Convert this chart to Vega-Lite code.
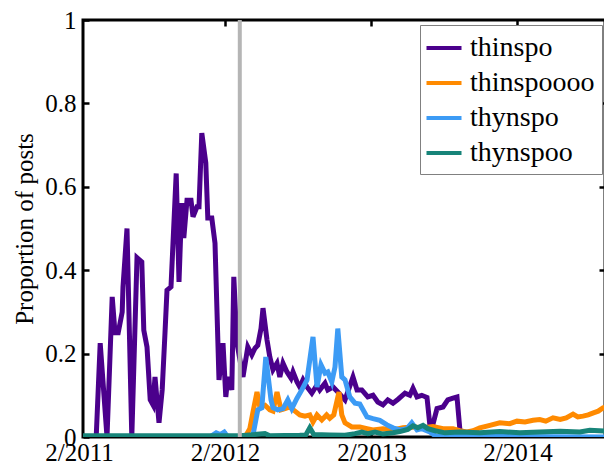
{
  "$schema": "https://vega.github.io/schema/vega-lite/v6.json",
  "width": 522,
  "height": 417,
  "autosize": {"type": "none"},
  "padding": {"left": 83, "top": 20, "right": 0, "bottom": 34},
  "background": "white",
  "config": {
    "view": {"stroke": "black", "strokeWidth": 3},
    "font": "Liberation Serif, serif",
    "axis": {
      "domain": false, "grid": false,
      "labelFont": "Liberation Serif, serif", "labelFontSize": 25, "labelColor": "black",
      "tickColor": "black", "tickWidth": 2.5, "tickSize": -6,
      "titleFont": "Liberation Serif, serif", "titleFontSize": 25, "titleFontWeight": "normal", "titleColor": "black",
      "labelFlush": false, "labelOverlap": false
    }
  },
  "datasets": {
    "series": [
      {"s": "thinspo", "d": "2011-03-16", "v": 0},
      {"s": "thinspo", "d": "2011-03-26", "v": 0.225},
      {"s": "thinspo", "d": "2011-04-12", "v": 0},
      {"s": "thinspo", "d": "2011-04-25", "v": 0.336},
      {"s": "thinspo", "d": "2011-05-02", "v": 0.25},
      {"s": "thinspo", "d": "2011-05-10", "v": 0.25},
      {"s": "thinspo", "d": "2011-05-20", "v": 0.30},
      {"s": "thinspo", "d": "2011-05-22", "v": 0.36},
      {"s": "thinspo", "d": "2011-06-01", "v": 0.50},
      {"s": "thinspo", "d": "2011-06-13", "v": 0},
      {"s": "thinspo", "d": "2011-06-26", "v": 0.43},
      {"s": "thinspo", "d": "2011-07-08", "v": 0.42},
      {"s": "thinspo", "d": "2011-07-13", "v": 0.256},
      {"s": "thinspo", "d": "2011-07-21", "v": 0.216},
      {"s": "thinspo", "d": "2011-07-29", "v": 0.089},
      {"s": "thinspo", "d": "2011-08-05", "v": 0.077},
      {"s": "thinspo", "d": "2011-08-10", "v": 0.144},
      {"s": "thinspo", "d": "2011-08-20", "v": 0.034},
      {"s": "thinspo", "d": "2011-08-28", "v": 0.113},
      {"s": "thinspo", "d": "2011-09-04", "v": 0.25},
      {"s": "thinspo", "d": "2011-09-09", "v": 0.352},
      {"s": "thinspo", "d": "2011-09-19", "v": 0.36},
      {"s": "thinspo", "d": "2011-10-02", "v": 0.632},
      {"s": "thinspo", "d": "2011-10-09", "v": 0.372},
      {"s": "thinspo", "d": "2011-10-16", "v": 0.561},
      {"s": "thinspo", "d": "2011-10-21", "v": 0.477},
      {"s": "thinspo", "d": "2011-10-29", "v": 0.568},
      {"s": "thinspo", "d": "2011-11-08", "v": 0.568},
      {"s": "thinspo", "d": "2011-11-13", "v": 0.528},
      {"s": "thinspo", "d": "2011-11-23", "v": 0.552},
      {"s": "thinspo", "d": "2011-11-28", "v": 0.552},
      {"s": "thinspo", "d": "2011-12-05", "v": 0.729},
      {"s": "thinspo", "d": "2011-12-15", "v": 0.657},
      {"s": "thinspo", "d": "2011-12-20", "v": 0.525},
      {"s": "thinspo", "d": "2011-12-30", "v": 0.525},
      {"s": "thinspo", "d": "2012-01-07", "v": 0.465},
      {"s": "thinspo", "d": "2012-01-17", "v": 0.137},
      {"s": "thinspo", "d": "2012-01-27", "v": 0.225},
      {"s": "thinspo", "d": "2012-02-03", "v": 0.096},
      {"s": "thinspo", "d": "2012-02-08", "v": 0.144},
      {"s": "thinspo", "d": "2012-02-18", "v": 0.113},
      {"s": "thinspo", "d": "2012-02-23", "v": 0.384},
      {"s": "thinspo", "d": "2012-03-02", "v": 0.225},
      {"s": "thinspo", "d": "2012-03-17", "v": 0.144},
      {"s": "thinspo", "d": "2012-03-29", "v": 0.216},
      {"s": "thinspo", "d": "2012-04-08", "v": 0.197},
      {"s": "thinspo", "d": "2012-04-16", "v": 0.213},
      {"s": "thinspo", "d": "2012-04-23", "v": 0.22},
      {"s": "thinspo", "d": "2012-05-01", "v": 0.26},
      {"s": "thinspo", "d": "2012-05-06", "v": 0.309},
      {"s": "thinspo", "d": "2012-05-16", "v": 0.233},
      {"s": "thinspo", "d": "2012-05-23", "v": 0.192},
      {"s": "thinspo", "d": "2012-05-31", "v": 0.161},
      {"s": "thinspo", "d": "2012-06-10", "v": 0.177},
      {"s": "thinspo", "d": "2012-06-17", "v": 0.144},
      {"s": "thinspo", "d": "2012-06-25", "v": 0.177},
      {"s": "thinspo", "d": "2012-07-05", "v": 0.156},
      {"s": "thinspo", "d": "2012-07-15", "v": 0.141},
      {"s": "thinspo", "d": "2012-07-20", "v": 0.156},
      {"s": "thinspo", "d": "2012-07-30", "v": 0.132},
      {"s": "thinspo", "d": "2012-08-06", "v": 0.12},
      {"s": "thinspo", "d": "2012-08-14", "v": 0.137},
      {"s": "thinspo", "d": "2012-08-24", "v": 0.12},
      {"s": "thinspo", "d": "2012-09-05", "v": 0.105},
      {"s": "thinspo", "d": "2012-09-18", "v": 0.125},
      {"s": "thinspo", "d": "2012-09-25", "v": 0.113},
      {"s": "thinspo", "d": "2012-10-08", "v": 0.129},
      {"s": "thinspo", "d": "2012-10-15", "v": 0.113},
      {"s": "thinspo", "d": "2012-10-28", "v": 0.12},
      {"s": "thinspo", "d": "2012-11-09", "v": 0.108},
      {"s": "thinspo", "d": "2012-11-27", "v": 0.089},
      {"s": "thinspo", "d": "2012-12-17", "v": 0.144},
      {"s": "thinspo", "d": "2012-12-27", "v": 0.113},
      {"s": "thinspo", "d": "2013-01-08", "v": 0.113},
      {"s": "thinspo", "d": "2013-01-23", "v": 0.096},
      {"s": "thinspo", "d": "2013-02-05", "v": 0.10},
      {"s": "thinspo", "d": "2013-02-17", "v": 0.084},
      {"s": "thinspo", "d": "2013-03-02", "v": 0.077},
      {"s": "thinspo", "d": "2013-03-14", "v": 0.089},
      {"s": "thinspo", "d": "2013-03-27", "v": 0.081},
      {"s": "thinspo", "d": "2013-04-08", "v": 0.09},
      {"s": "thinspo", "d": "2013-04-26", "v": 0.105},
      {"s": "thinspo", "d": "2013-05-08", "v": 0.10},
      {"s": "thinspo", "d": "2013-05-16", "v": 0.117},
      {"s": "thinspo", "d": "2013-05-26", "v": 0.096},
      {"s": "thinspo", "d": "2013-06-07", "v": 0.10},
      {"s": "thinspo", "d": "2013-06-20", "v": 0.095},
      {"s": "thinspo", "d": "2013-06-27", "v": 0.03},
      {"s": "thinspo", "d": "2013-07-02", "v": 0.02},
      {"s": "thinspo", "d": "2013-07-15", "v": 0.068},
      {"s": "thinspo", "d": "2013-07-30", "v": 0.072},
      {"s": "thinspo", "d": "2013-08-11", "v": 0.089},
      {"s": "thinspo", "d": "2013-08-24", "v": 0.093},
      {"s": "thinspo", "d": "2013-09-03", "v": 0.096},
      {"s": "thinspo", "d": "2013-09-10", "v": 0.02},
      {"s": "thinspo", "d": "2013-09-15", "v": 0},

      {"s": "thinspoooo", "d": "2011-02-11", "v": 0},
      {"s": "thinspoooo", "d": "2012-03-22", "v": 0},
      {"s": "thinspoooo", "d": "2012-04-03", "v": 0.02},
      {"s": "thinspoooo", "d": "2012-04-11", "v": 0.06},
      {"s": "thinspoooo", "d": "2012-04-21", "v": 0.108},
      {"s": "thinspoooo", "d": "2012-04-28", "v": 0.072},
      {"s": "thinspoooo", "d": "2012-05-11", "v": 0.076},
      {"s": "thinspoooo", "d": "2012-05-23", "v": 0.065},
      {"s": "thinspoooo", "d": "2012-05-31", "v": 0.062},
      {"s": "thinspoooo", "d": "2012-06-10", "v": 0.108},
      {"s": "thinspoooo", "d": "2012-06-20", "v": 0.065},
      {"s": "thinspoooo", "d": "2012-06-30", "v": 0.068},
      {"s": "thinspoooo", "d": "2012-07-12", "v": 0.072},
      {"s": "thinspoooo", "d": "2012-07-25", "v": 0.062},
      {"s": "thinspoooo", "d": "2012-08-06", "v": 0.053},
      {"s": "thinspoooo", "d": "2012-08-19", "v": 0.05},
      {"s": "thinspoooo", "d": "2012-08-31", "v": 0.053},
      {"s": "thinspoooo", "d": "2012-09-08", "v": 0.036},
      {"s": "thinspoooo", "d": "2012-09-18", "v": 0.053},
      {"s": "thinspoooo", "d": "2012-09-30", "v": 0.041},
      {"s": "thinspoooo", "d": "2012-10-12", "v": 0.053},
      {"s": "thinspoooo", "d": "2012-10-20", "v": 0.045},
      {"s": "thinspoooo", "d": "2012-10-30", "v": 0.053},
      {"s": "thinspoooo", "d": "2012-11-12", "v": 0.108},
      {"s": "thinspoooo", "d": "2012-11-19", "v": 0.053},
      {"s": "thinspoooo", "d": "2012-11-27", "v": 0.034},
      {"s": "thinspoooo", "d": "2012-12-14", "v": 0.024},
      {"s": "thinspoooo", "d": "2013-01-03", "v": 0.024},
      {"s": "thinspoooo", "d": "2013-01-21", "v": 0.02},
      {"s": "thinspoooo", "d": "2013-02-05", "v": 0.017},
      {"s": "thinspoooo", "d": "2013-03-02", "v": 0.02},
      {"s": "thinspoooo", "d": "2013-03-27", "v": 0.017},
      {"s": "thinspoooo", "d": "2013-04-21", "v": 0.022},
      {"s": "thinspoooo", "d": "2013-05-16", "v": 0.024},
      {"s": "thinspoooo", "d": "2013-06-10", "v": 0.022},
      {"s": "thinspoooo", "d": "2013-07-05", "v": 0.025},
      {"s": "thinspoooo", "d": "2013-07-30", "v": 0.02},
      {"s": "thinspoooo", "d": "2013-08-24", "v": 0.02},
      {"s": "thinspoooo", "d": "2013-09-10", "v": 0.015},
      {"s": "thinspoooo", "d": "2013-09-28", "v": 0.012},
      {"s": "thinspoooo", "d": "2013-10-13", "v": 0.015},
      {"s": "thinspoooo", "d": "2013-10-30", "v": 0.022},
      {"s": "thinspoooo", "d": "2013-11-24", "v": 0.028},
      {"s": "thinspoooo", "d": "2013-12-19", "v": 0.034},
      {"s": "thinspoooo", "d": "2014-01-13", "v": 0.032},
      {"s": "thinspoooo", "d": "2014-01-31", "v": 0.038},
      {"s": "thinspoooo", "d": "2014-02-20", "v": 0.036},
      {"s": "thinspoooo", "d": "2014-03-12", "v": 0.04},
      {"s": "thinspoooo", "d": "2014-03-29", "v": 0.042},
      {"s": "thinspoooo", "d": "2014-04-13", "v": 0.038},
      {"s": "thinspoooo", "d": "2014-05-01", "v": 0.046},
      {"s": "thinspoooo", "d": "2014-05-19", "v": 0.042},
      {"s": "thinspoooo", "d": "2014-06-03", "v": 0.046},
      {"s": "thinspoooo", "d": "2014-06-20", "v": 0.055},
      {"s": "thinspoooo", "d": "2014-07-02", "v": 0.048},
      {"s": "thinspoooo", "d": "2014-07-15", "v": 0.05},
      {"s": "thinspoooo", "d": "2014-07-28", "v": 0.053},
      {"s": "thinspoooo", "d": "2014-08-10", "v": 0.058},
      {"s": "thinspoooo", "d": "2014-08-22", "v": 0.062},
      {"s": "thinspoooo", "d": "2014-09-03", "v": 0.07},
      {"s": "thinspoooo", "d": "2014-09-15", "v": 0.072},

      {"s": "thynspo", "d": "2011-02-11", "v": 0},
      {"s": "thynspo", "d": "2011-12-25", "v": 0},
      {"s": "thynspo", "d": "2012-01-10", "v": 0.01},
      {"s": "thynspo", "d": "2012-01-20", "v": 0.006},
      {"s": "thynspo", "d": "2012-01-30", "v": 0.012},
      {"s": "thynspo", "d": "2012-02-08", "v": 0},
      {"s": "thynspo", "d": "2012-03-29", "v": 0},
      {"s": "thynspo", "d": "2012-04-11", "v": 0.005},
      {"s": "thynspo", "d": "2012-04-23", "v": 0.065},
      {"s": "thynspo", "d": "2012-05-03", "v": 0.07},
      {"s": "thynspo", "d": "2012-05-13", "v": 0.192},
      {"s": "thynspo", "d": "2012-05-26", "v": 0.089},
      {"s": "thynspo", "d": "2012-05-31", "v": 0.07},
      {"s": "thynspo", "d": "2012-06-12", "v": 0.065},
      {"s": "thynspo", "d": "2012-06-25", "v": 0.068},
      {"s": "thynspo", "d": "2012-07-07", "v": 0.089},
      {"s": "thynspo", "d": "2012-07-17", "v": 0.068},
      {"s": "thynspo", "d": "2012-07-30", "v": 0.093},
      {"s": "thynspo", "d": "2012-08-11", "v": 0.113},
      {"s": "thynspo", "d": "2012-08-24", "v": 0.137},
      {"s": "thynspo", "d": "2012-09-08", "v": 0.24},
      {"s": "thynspo", "d": "2012-09-18", "v": 0.12},
      {"s": "thynspo", "d": "2012-09-28", "v": 0.173},
      {"s": "thynspo", "d": "2012-10-08", "v": 0.153},
      {"s": "thynspo", "d": "2012-10-15", "v": 0.156},
      {"s": "thynspo", "d": "2012-10-25", "v": 0.132},
      {"s": "thynspo", "d": "2012-11-02", "v": 0.168},
      {"s": "thynspo", "d": "2012-11-09", "v": 0.26},
      {"s": "thynspo", "d": "2012-11-19", "v": 0.144},
      {"s": "thynspo", "d": "2012-11-27", "v": 0.137},
      {"s": "thynspo", "d": "2012-12-09", "v": 0.096},
      {"s": "thynspo", "d": "2012-12-22", "v": 0.081},
      {"s": "thynspo", "d": "2013-01-03", "v": 0.079},
      {"s": "thynspo", "d": "2013-01-21", "v": 0.048},
      {"s": "thynspo", "d": "2013-02-05", "v": 0.044},
      {"s": "thynspo", "d": "2013-02-22", "v": 0.04},
      {"s": "thynspo", "d": "2013-03-12", "v": 0.029},
      {"s": "thynspo", "d": "2013-03-27", "v": 0.022},
      {"s": "thynspo", "d": "2013-04-13", "v": 0.017},
      {"s": "thynspo", "d": "2013-05-01", "v": 0.02},
      {"s": "thynspo", "d": "2013-05-13", "v": 0.034},
      {"s": "thynspo", "d": "2013-05-26", "v": 0.017},
      {"s": "thynspo", "d": "2013-06-07", "v": 0.02},
      {"s": "thynspo", "d": "2013-06-27", "v": 0.012},
      {"s": "thynspo", "d": "2013-07-12", "v": 0.002},
      {"s": "thynspo", "d": "2014-09-15", "v": 0},

      {"s": "thynspoo", "d": "2011-02-11", "v": 0.003},
      {"s": "thynspoo", "d": "2012-03-09", "v": 0.003},
      {"s": "thynspoo", "d": "2012-05-11", "v": 0.008},
      {"s": "thynspoo", "d": "2012-05-23", "v": 0.003},
      {"s": "thynspoo", "d": "2012-08-06", "v": 0.004},
      {"s": "thynspoo", "d": "2012-08-21", "v": 0.005},
      {"s": "thynspoo", "d": "2012-08-31", "v": 0.022},
      {"s": "thynspoo", "d": "2012-09-10", "v": 0.006},
      {"s": "thynspoo", "d": "2012-10-20", "v": 0.005},
      {"s": "thynspoo", "d": "2012-11-27", "v": 0.004},
      {"s": "thynspoo", "d": "2012-12-22", "v": 0.008},
      {"s": "thynspoo", "d": "2013-01-08", "v": 0.012},
      {"s": "thynspoo", "d": "2013-01-23", "v": 0.008},
      {"s": "thynspoo", "d": "2013-02-10", "v": 0.012},
      {"s": "thynspoo", "d": "2013-03-02", "v": 0.007},
      {"s": "thynspoo", "d": "2013-03-27", "v": 0.01},
      {"s": "thynspoo", "d": "2013-04-13", "v": 0.013},
      {"s": "thynspoo", "d": "2013-05-03", "v": 0.018},
      {"s": "thynspoo", "d": "2013-05-16", "v": 0.027},
      {"s": "thynspoo", "d": "2013-05-28", "v": 0.022},
      {"s": "thynspoo", "d": "2013-06-10", "v": 0.028},
      {"s": "thynspoo", "d": "2013-06-22", "v": 0.02},
      {"s": "thynspoo", "d": "2013-07-10", "v": 0.015},
      {"s": "thynspoo", "d": "2013-08-04", "v": 0.01},
      {"s": "thynspoo", "d": "2013-09-10", "v": 0.012},
      {"s": "thynspoo", "d": "2013-10-30", "v": 0.01},
      {"s": "thynspoo", "d": "2013-12-19", "v": 0.013},
      {"s": "thynspoo", "d": "2014-02-07", "v": 0.01},
      {"s": "thynspoo", "d": "2014-03-29", "v": 0.012},
      {"s": "thynspoo", "d": "2014-05-19", "v": 0.014},
      {"s": "thynspoo", "d": "2014-07-07", "v": 0.012},
      {"s": "thynspoo", "d": "2014-08-01", "v": 0.016},
      {"s": "thynspoo", "d": "2014-09-15", "v": 0.014}
    ],
    "marker": [{"d": "2012-03-09", "lo": 0, "hi": 1}]
  },
  "layer": [
    {
      "data": {"name": "series"},
      "mark": {"type": "line", "strokeWidth": 5, "clip": true},
      "encoding": {
        "x": {
          "field": "d", "type": "temporal",
          "scale": {
            "type": "utc",
            "domain": [{"year": 2011, "month": 2, "date": 1, "utc": true}, {"year": 2014, "month": 9, "date": 8, "utc": true}],
            "range": [-4, 522]
          },
          "axis": {
            "orient": "bottom", "title": null, "format": "%-m/%Y", "labelPadding": 9,
            "values": [
              {"year": 2011, "month": 2, "date": 1, "utc": true},
              {"year": 2012, "month": 2, "date": 1, "utc": true},
              {"year": 2013, "month": 2, "date": 1, "utc": true},
              {"year": 2014, "month": 2, "date": 1, "utc": true}
            ],
            "tickOpacity": {"condition": {"test": "datum.value < 1300000000000", "value": 0}, "value": 1}
          }
        },
        "y": {
          "field": "v", "type": "quantitative",
          "scale": {"domain": [0, 1]},
          "axis": {"orient": "left", "title": "Proportion of posts", "values": [0, 0.2, 0.4, 0.6, 0.8, 1], "format": "~g", "labelPadding": 13, "titlePadding": 7}
        },
        "color": {
          "field": "s", "type": "nominal",
          "scale": {"domain": ["thinspo", "thinspoooo", "thynspo", "thynspoo"], "range": ["#4b008c", "#ff8a00", "#3c9bf5", "#178479"]},
          "legend": {
            "title": null, "orient": "none", "legendX": 337, "legendY": 5, "direction": "vertical",
            "strokeColor": "#808080", "fillColor": "white", "padding": 7,
            "labelFont": "Liberation Serif, serif", "labelFontSize": 28, "labelColor": "black", "labelOffset": 10, "labelLimit": 300,
            "rowPadding": 5, "symbolType": "M-1.25,0H1.25", "symbolSize": 784, "symbolStrokeWidth": 4, "symbolOffset": 1
          }
        }
      }
    },
    {
      "data": {"name": "marker"},
      "mark": {"type": "rule", "color": "#b5b5b5", "strokeWidth": 4},
      "encoding": {
        "x": {
          "field": "d", "type": "temporal",
          "axis": {
            "orient": "top", "title": null, "labels": false,
            "values": [
              {"year": 2012, "month": 2, "date": 1, "utc": true},
              {"year": 2013, "month": 2, "date": 1, "utc": true},
              {"year": 2014, "month": 2, "date": 1, "utc": true}
            ]
          }
        },
        "y": {"field": "lo", "type": "quantitative", "axis": {"orient": "right", "title": null, "labels": false, "values": [0.2, 0.4, 0.6, 0.8]}},
        "y2": {"field": "hi"}
      }
    }
  ],
  "resolve": {"axis": {"x": "independent", "y": "independent"}}
}
